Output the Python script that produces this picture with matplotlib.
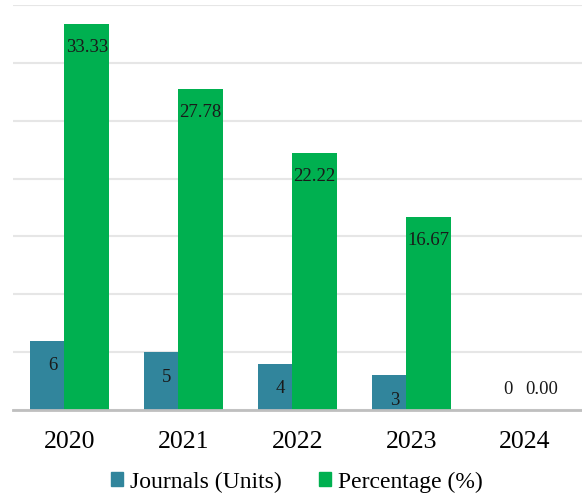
import matplotlib
matplotlib.use("Agg")
import matplotlib.pyplot as plt
import numpy as np
from matplotlib.patches import Patch

years = ["2020", "2021", "2022", "2023", "2024"]
journals = [6, 5, 4, 3, 0]
percentage = [33.33, 27.78, 22.22, 16.67, 0.00]
yticks = [0, 5, 10, 15, 20, 25, 30, 35]

blue = "#31859C"
green = "#00B050"

plt.rcParams['font.family'] = ['Liberation Serif', 'DejaVu Serif']

fig = plt.figure(figsize=(5.82, 4.94), dpi=100)
ax = fig.add_axes([13/582, 1 - 410/494, 1 - 13/582, (410 - 5)/494])

x = np.arange(len(years))
w = 0.395
off = 0.149
ax.bar(x - off, journals, w, color=blue, zorder=2)
ax.bar(x + off, percentage, w, color=green, zorder=3)

for xi, v in zip(x, journals):
    dy = -18 if v > 0 else 15
    ax.annotate(f"{v}", (xi - off, v), xytext=(0, dy), textcoords="offset points",
                ha="center", va="center", fontsize=13.5, color="#1a1a1a", zorder=5)
for xi, v in zip(x, percentage):
    dy = -17 if v > 0 else 15
    ax.annotate(f"{v:.2f}", (xi + off, v), xytext=(0, dy), textcoords="offset points",
                ha="center", va="center", fontsize=13.5, color="#1a1a1a", zorder=5)

ax.set_xlim(-0.5, 4.5)
ax.set_ylim(0, 35)
ax.set_yticks(yticks)
ax.set_yticklabels([])
ax.tick_params(axis='y', length=0)
ax.yaxis.grid(True, color="#e6e6e6", linewidth=1.5, zorder=0)
ax.set_axisbelow(True)
ax.set_xticks(x)
ax.set_xticklabels(years, fontsize=18.5)
ax.tick_params(axis='x', length=0, pad=15)
for s in ["top", "right", "left"]:
    ax.spines[s].set_visible(False)
ax.spines["bottom"].set_color("#bfbfbf")
ax.spines["bottom"].set_linewidth(2)
ax.spines["bottom"].set_zorder(4)

handles = [Patch(color=blue), Patch(color=green)]
fig.legend(handles, ["Journals (Units)", "Percentage (%)"], loc="center",
           bbox_to_anchor=(0.51, 1 - 482/494), ncol=2, frameon=False, fontsize=17,
           handlelength=0.5, handleheight=0.5, handletextpad=0.3, columnspacing=1.6)

fig.savefig("out.png", dpi=100)
